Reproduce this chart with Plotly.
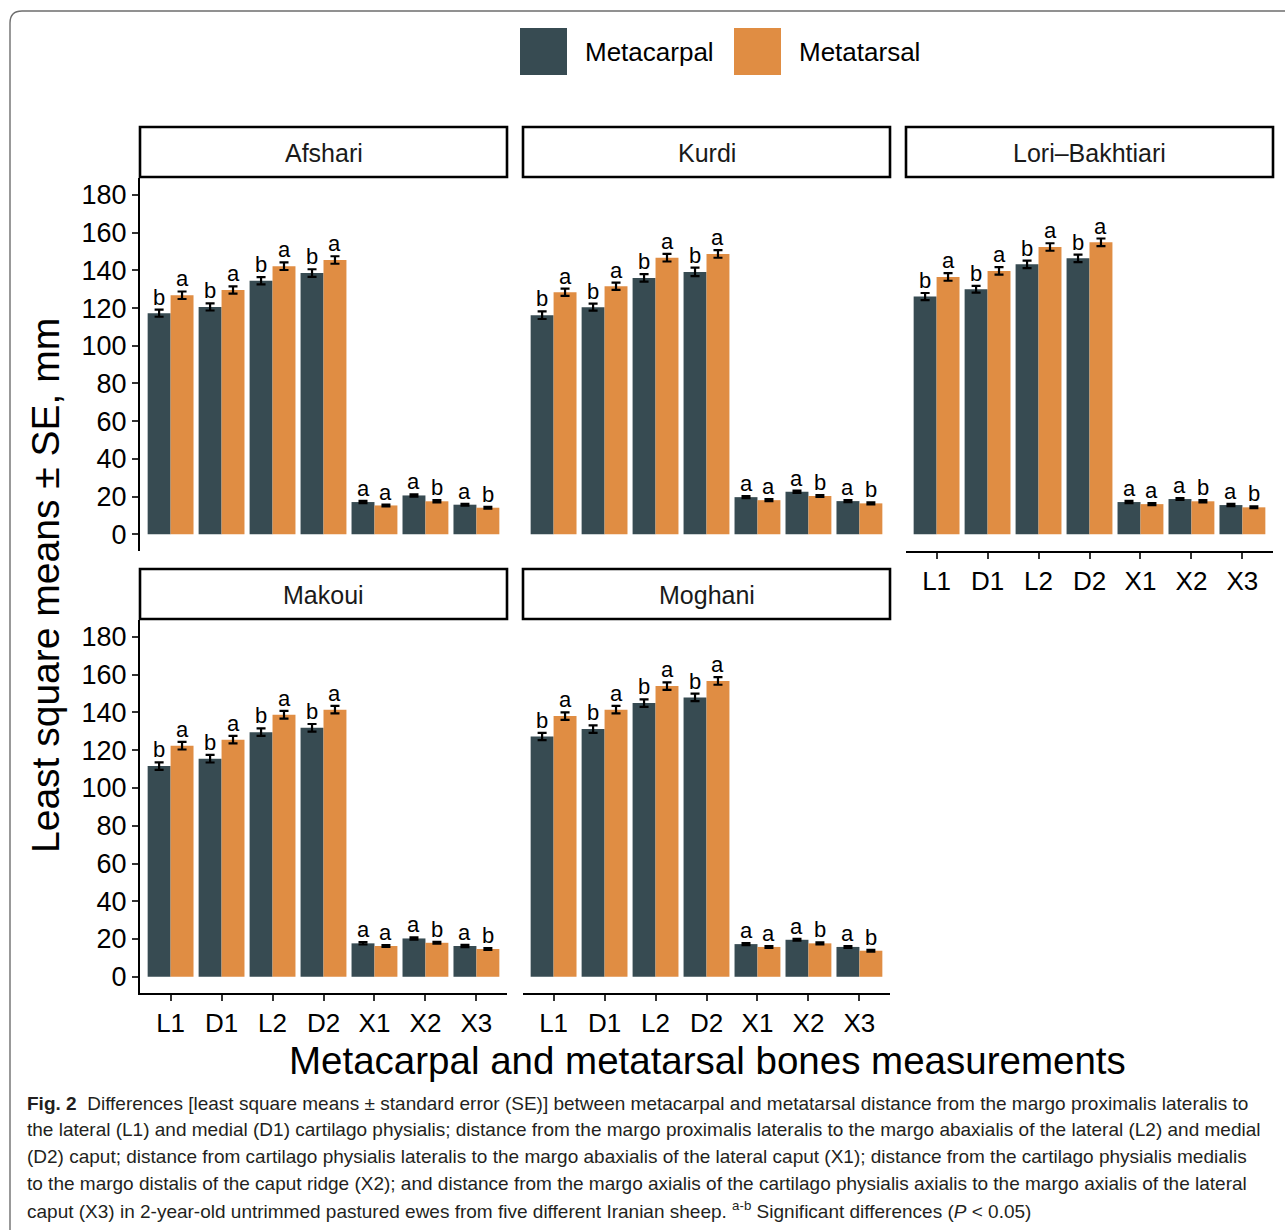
import plotly.graph_objects as go

W, H = 1285, 1230

measures = ["L1", "D1", "L2", "D2", "X1", "X2", "X3"]
breeds = ["Afshari", "Kurdi", "Lori–Bakhtiari", "Makoui", "Moghani"]

# Least square means (mm)
afshari_mc = [117.3, 120.6, 134.5, 138.6, 17.1, 20.6, 15.7]
afshari_mt = [126.8, 129.6, 142.2, 145.5, 15.3, 17.5, 14.1]
kurdi_mc = [116.2, 120.5, 136.0, 139.2, 19.7, 22.6, 17.6]
kurdi_mt = [128.4, 131.6, 146.7, 148.7, 18.1, 20.3, 16.4]
lori_mc = [126.1, 130.0, 143.2, 146.4, 17.1, 18.7, 15.5]
lori_mt = [136.5, 139.7, 152.4, 154.9, 16.0, 17.5, 14.3]
makoui_mc = [111.6, 115.5, 129.6, 131.9, 17.7, 20.3, 16.3]
makoui_mt = [122.4, 125.6, 138.8, 141.5, 16.3, 18.0, 14.7]
moghani_mc = [127.3, 131.2, 145.0, 148.0, 17.3, 19.6, 15.8]
moghani_mt = [138.1, 141.5, 154.0, 156.7, 15.8, 17.7, 13.8]

# Standard errors (mm)
afshari_mc_se = [1.9, 1.9, 1.9, 2.0, 0.6, 0.6, 0.5]
afshari_mt_se = [2.0, 1.9, 2.0, 2.0, 0.5, 0.6, 0.5]
kurdi_mc_se = [2.0, 1.9, 2.0, 2.3, 0.5, 0.6, 0.5]
kurdi_mt_se = [1.9, 1.9, 2.0, 2.0, 0.5, 0.5, 0.5]
lori_mc_se = [1.9, 1.8, 2.0, 2.0, 0.6, 0.5, 0.6]
lori_mt_se = [2.0, 2.0, 2.0, 2.0, 0.5, 0.6, 0.5]
makoui_mc_se = [2.0, 2.0, 2.0, 2.0, 0.6, 0.6, 0.6]
makoui_mt_se = [2.0, 2.0, 2.1, 2.0, 0.5, 0.5, 0.5]
moghani_mc_se = [1.9, 2.0, 2.0, 2.0, 0.5, 0.5, 0.5]
moghani_mt_se = [2.0, 2.0, 2.0, 2.0, 0.5, 0.5, 0.5]

# Significance letters
mc_letters = ["b", "b", "b", "b", "a", "a", "a"]
mt_letters = ["a", "a", "a", "a", "a", "b", "b"]

series_names = ["Metacarpal", "Metatarsal"]
colors = ["#374B52", "#E08D43"]

y_ticks = [0, 20, 40, 60, 80, 100, 120, 140, 160, 180]

panel_data = [
    (afshari_mc, afshari_mc_se, afshari_mt, afshari_mt_se),
    (kurdi_mc, kurdi_mc_se, kurdi_mt, kurdi_mt_se),
    (lori_mc, lori_mc_se, lori_mt, lori_mt_se),
    (makoui_mc, makoui_mc_se, makoui_mt, makoui_mt_se),
    (moghani_mc, moghani_mc_se, moghani_mt, moghani_mt_se),
]

FONT = "Arial, Liberation Sans, sans-serif"


def px(x):
    return x / W


def py(y):
    return 1 - y / H


# panel pixel boxes (x0, x1, y0_top, y1_bottom)
col_x = [(140, 507), (523, 890), (906, 1273)]
row1 = (178, 550.5)
row2 = (620, 993)
panels = [
    (col_x[0], row1, True, False),
    (col_x[1], row1, False, False),
    (col_x[2], row1, False, True),
    (col_x[0], row2, True, True),
    (col_x[1], row2, False, True),
]
strip_rows = [(127, 177), (127, 177), (127, 177), (569, 619), (569, 619)]

fig = go.Figure()
xidx = list(range(len(measures)))
annotations = []
shapes = []
layout = {}

for p, (data, (xb, yb, show_y, show_x)) in enumerate(zip(panel_data, panels)):
    ax = "" if p == 0 else str(p + 1)
    mc, mc_se, mt, mt_se = data
    for k, (vals, se) in enumerate([(mc, mc_se), (mt, mt_se)]):
        fig.add_trace(go.Bar(
            x=xidx, y=vals, name=series_names[k],
            marker=dict(color=colors[k], line=dict(width=0)),
            error_y=dict(type="data", array=se, color="black", thickness=2.2, width=4.5),
            offsetgroup=str(k), showlegend=False,
            xaxis="x" + ax, yaxis="y" + ax,
        ))
    for k, (vals, se, lets) in enumerate([(mc, mc_se, mc_letters), (mt, mt_se, mt_letters)]):
        off = -0.225 if k == 0 else 0.225
        for i in xidx:
            annotations.append(dict(
                x=i + off, y=vals[i] + se[i], xref="x" + ax, yref="y" + ax,
                text=lets[i], showarrow=False, yanchor="bottom", xanchor="center",
                yshift=-2, font=dict(family=FONT, size=22, color="black"),
            ))
    layout["xaxis" + ax] = dict(
        domain=[px(xb[0]), px(xb[1])], anchor="y" + ax,
        range=[-0.6, 6.6], tickmode="array", tickvals=xidx, ticktext=measures,
        showticklabels=show_x, ticks="outside" if show_x else "", ticklen=6, tickwidth=1.6,
        tickcolor="#333333",
        showline=show_x, linecolor="black", linewidth=2.2,
        showgrid=False, zeroline=False, fixedrange=True,
        tickfont=dict(family=FONT, size=26, color="black"),
    )
    layout["yaxis" + ax] = dict(
        domain=[py(yb[1]), py(yb[0])], anchor="x" + ax,
        range=[-8.6, 189], tickmode="array", tickvals=y_ticks,
        showticklabels=show_y, ticks="outside" if show_y else "", ticklen=6, tickwidth=1.6,
        tickcolor="#333333",
        showline=show_y, linecolor="black", linewidth=2.2,
        showgrid=False, zeroline=False, fixedrange=True,
        tickfont=dict(family=FONT, size=27, color="black"),
    )
    # strip
    sy = strip_rows[p]
    shapes.append(dict(type="rect", xref="paper", yref="paper",
                       x0=px(xb[0]), x1=px(xb[1]), y0=py(sy[1]), y1=py(sy[0]),
                       line=dict(color="black", width=2.6), fillcolor="white", layer="above"))
    annotations.append(dict(x=px((xb[0] + xb[1]) / 2), y=py((sy[0] + sy[1]) / 2 + 1),
                            xref="paper", yref="paper", text=breeds[p], showarrow=False,
                            xanchor="center", yanchor="middle",
                            font=dict(family=FONT, size=25, color="#1a1a1a")))

# legend (manual keys)
leg_keys = [(520, 567, 583), (734, 781, 797)]
for k, (x0, x1, tx) in enumerate(leg_keys):
    shapes.append(dict(type="rect", xref="paper", yref="paper",
                       x0=px(x0), x1=px(x1), y0=py(75), y1=py(28),
                       line=dict(color=colors[k], width=0), fillcolor=colors[k]))
    annotations.append(dict(x=px(tx), y=py(52), xref="paper", yref="paper",
                            text=series_names[k], showarrow=False, xanchor="left",
                            yanchor="middle", font=dict(family=FONT, size=26, color="black")))

# axis titles
annotations.append(dict(x=px(707), y=py(1060), xref="paper", yref="paper",
                        text="Metacarpal and metatarsal bones measurements", showarrow=False,
                        xanchor="center", yanchor="middle",
                        font=dict(family=FONT, size=38.5, color="black")))
annotations.append(dict(x=px(45), y=py(586), xref="paper", yref="paper",
                        text="Least square means ± SE, mm", showarrow=False, textangle=-90,
                        xanchor="center", yanchor="middle",
                        font=dict(family=FONT, size=39, color="black")))

# caption
caption_lines = [
    "<b>Fig. 2</b>  Differences [least square means ± standard error (SE)] between metacarpal and metatarsal distance from the margo proximalis lateralis to",
    "the lateral (L1) and medial (D1) cartilago physialis; distance from the margo proximalis lateralis to the margo abaxialis of the lateral (L2) and medial",
    "(D2) caput; distance from cartilago physialis lateralis to the margo abaxialis of the lateral caput (X1); distance from the cartilago physialis medialis",
    "to the margo distalis of the caput ridge (X2); and distance from the margo axialis of the cartilago physialis axialis to the margo axialis of the lateral",
    "caput (X3) in 2-year-old untrimmed pastured ewes from five different Iranian sheep. <sup>a-b</sup> Significant differences (<i>P</i> < 0.05)",
]
for j, line in enumerate(caption_lines):
    annotations.append(dict(x=px(25), y=py(1103 + 26.8 * j), xref="paper", yref="paper",
                            text=line, showarrow=False, xanchor="left", yanchor="middle",
                            font=dict(family=FONT, size=19, color="#231f20")))

# outer rounded frame
r = 12
path = (f"M {px(1300)},{py(11)} L {px(10 + r)},{py(11)} "
        f"Q {px(10)},{py(11)} {px(10)},{py(11 + r)} L {px(10)},{py(1260)}")
shapes.append(dict(type="path", xref="paper", yref="paper", path=path,
                   line=dict(color="#6e6e6e", width=1.4)))

fig.update_layout(
    width=W, height=H, margin=dict(l=0, r=0, t=0, b=0),
    paper_bgcolor="white", plot_bgcolor="white",
    barmode="group", bargap=0.1, bargroupgap=0,
    showlegend=False, annotations=annotations, shapes=shapes,
    font=dict(family=FONT, color="black"),
    **layout,
)

fig.write_html("out.html", config={"displayModeBar": False},
               post_script="document.body.style.margin='0';document.body.style.overflow='hidden';")
